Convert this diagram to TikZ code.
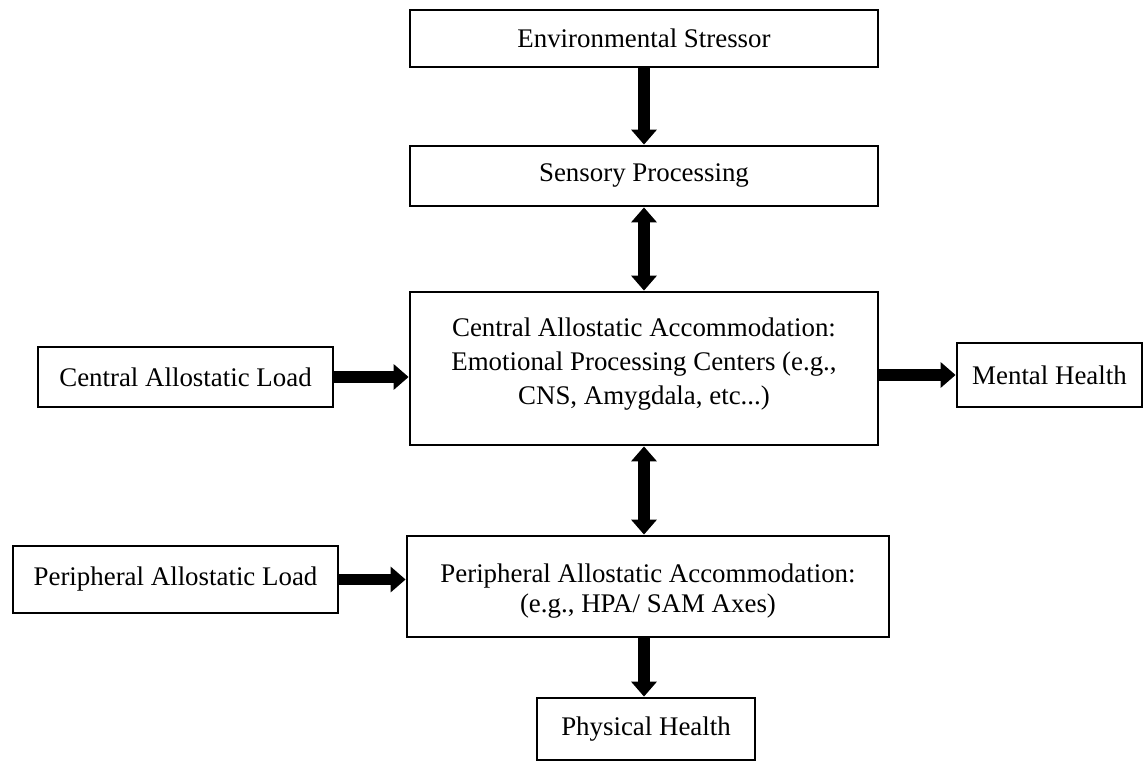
\documentclass[tikz,border=0pt]{standalone}
\usepackage{fontspec}
\setmainfont{Liberation Serif}
\usetikzlibrary{arrows.meta}
\begin{document}
\begin{tikzpicture}[
    box/.style={draw, line width=1.6pt, rectangle, inner sep=0pt},
    blockarrow/.style={line width=6.3pt, -{Triangle[width=0.5cm,length=0.3cm]}},
    twoway/.style={line width=6.3pt, {Triangle[width=0.5cm,length=0.3cm]}-{Triangle[width=0.5cm,length=0.3cm]}},
    font=\fontsize{15.3}{19.5}\selectfont
  ]
      \useasboundingbox (0,0) rectangle (22.88,-15.22);
      \draw
        (12.88,-0.77) node[box, minimum width=9.36cm, minimum height=1.14cm] (env){Environmental Stressor}
        (12.88,-3.52) node[box, minimum width=9.36cm, minimum height=1.2cm] (sens){Sensory Processing}
        (12.88,-7.37) node[box, minimum width=9.36cm, minimum height=3.06cm] (cacc){}
        (12.88,-7.28) node[align=center] (cacctext){Central Allostatic Accommodation:\\Emotional Processing Centers (e.g.,\\CNS, Amygdala, etc...)}
        (3.71,-7.54) node[box, minimum width=5.9cm, minimum height=1.2cm] (cload){Central Allostatic Load}
        (20.99,-7.5) node[box, minimum width=3.7cm, minimum height=1.28cm] (ment){Mental Health}
        (3.51,-11.59) node[box, minimum width=6.5cm, minimum height=1.34cm] (pload){Peripheral Allostatic Load}
        (12.96,-11.73) node[box, minimum width=9.64cm, minimum height=2.02cm] (pacc){}
        (12.96,-11.82) node[align=center, font=\fontsize{15.3}{17.5}\selectfont] (pacctext){Peripheral Allostatic Accommodation:\\(e.g., HPA/ SAM Axes)}
        (12.92,-14.58) node[box, minimum width=4.36cm, minimum height=1.24cm] (phys){Physical Health};
      \begin{scope}[blockarrow]
        \draw (env) to (sens);
        \draw (cload) to (cacc.west |- cload);
        \draw (cacc.east |- ment) to (ment);
        \draw (pload) to (pacc.west |- pload);
        \draw (cacc.south |- pacc.south) to (cacc.south |- phys.north);
      \end{scope}
      \begin{scope}[twoway]
        \draw (sens) to (cacc);
        \draw (cacc) to (cacc.south |- pacc.north);
      \end{scope}
    \end{tikzpicture}
\end{document}
